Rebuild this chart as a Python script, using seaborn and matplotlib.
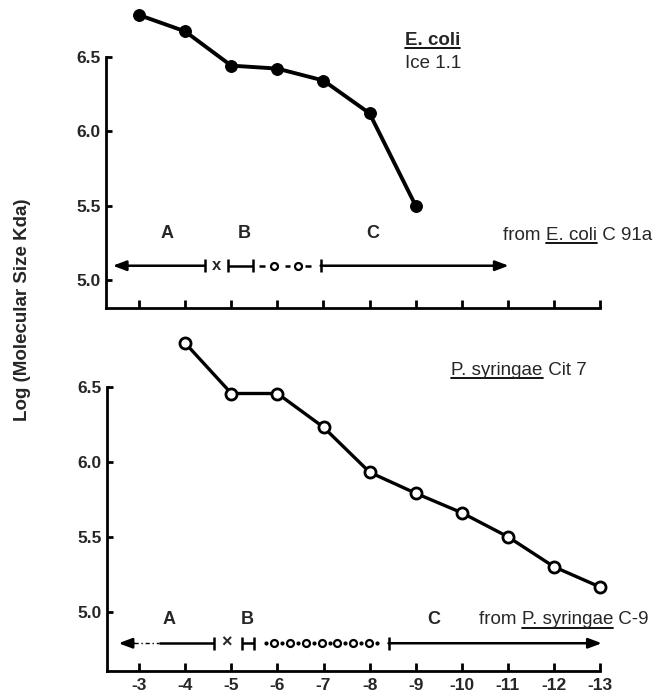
import matplotlib
matplotlib.use("Agg")
import matplotlib.pyplot as plt
import seaborn as sns
import numpy as np
import pandas as pd
from matplotlib.lines import Line2D
from matplotlib.transforms import IdentityTransform

# ---------------- data ----------------
dilution_ecoli = [-3, -4, -5, -6, -7, -8, -9]
logsize_ecoli = [6.78, 6.67, 6.44, 6.42, 6.34, 6.12, 5.50]

dilution_psyr = [-4, -5, -6, -7, -8, -9, -10, -11, -12, -13]
logsize_psyr = [6.79, 6.455, 6.455, 6.23, 5.93, 5.79, 5.66, 5.50, 5.30, 5.165]

xticks = [-3, -4, -5, -6, -7, -8, -9, -10, -11, -12, -13]
xtick_labels = ["-3", "-4", "-5", "-6", "-7", "-8", "-9", "-10", "-11", "-12", "-13"]
yticks = [5.0, 5.5, 6.0, 6.5]
ytick_labels = ["5.0", "5.5", "6.0", "6.5"]

ylabel = "Log (Molecular Size Kda)"
region_labels = ["A", "B", "C"]

# ---------------- style ----------------
sns.set_style("ticks")
plt.rcParams["font.family"] = ["Liberation Sans", "DejaVu Sans"]
plt.rcParams["axes.unicode_minus"] = False

W, H = 669, 694
fig = plt.figure(figsize=(W / 100, H / 100), dpi=100)

def px_axes(left, right, top, bottom):
    return fig.add_axes([left / W, 1 - bottom / H, (right - left) / W, (bottom - top) / H])

ax1 = px_axes(106, 600, 8, 308)
ax2 = px_axes(107, 600, 335, 671)

df1 = pd.DataFrame({"dilution": dilution_ecoli, "logsize": logsize_ecoli})
df2 = pd.DataFrame({"dilution": dilution_psyr, "logsize": logsize_psyr})

sns.lineplot(data=df1, x="dilution", y="logsize", ax=ax1, color="black", lw=2.8,
             marker="o", markersize=8.5, markerfacecolor="black",
             markeredgecolor="black", sort=False, clip_on=False)
sns.lineplot(data=df2, x="dilution", y="logsize", ax=ax2, color="black", lw=2.4,
             marker="o", markersize=8, markerfacecolor="white",
             markeredgecolor="black", markeredgewidth=2.0, sort=False, clip_on=False)

ax1.set_xlim(-2.284, -13.0)
ax1.set_ylim(4.812, 6.827)
ax2.set_xlim(-2.30, -13.0)
ax2.set_ylim(4.605, 6.845)

TICKFS = 12.5
for ax in (ax1, ax2):
    sns.despine(ax=ax)
    ax.set_xticks(xticks)
    ax.set_yticks(yticks)
    ax.set_yticklabels(ytick_labels, fontsize=TICKFS, fontweight="bold")
    ax.set_xlabel("")
    ax.set_ylabel("")
    for s in ("left", "bottom"):
        ax.spines[s].set_linewidth(2.0)
        ax.spines[s].set_color("black")
    ax.tick_params(axis="x", direction="in", length=6, width=2.0, pad=5, color="black")
    ax.tick_params(axis="y", direction="in", length=4.5, width=2.0, pad=4, color="black")

ax1.set_xticklabels([])
ax2.set_xticklabels(xtick_labels, fontsize=TICKFS, fontweight="bold")
ax1.spines["left"].set_bounds(4.812, 6.5)
ax2.spines["left"].set_bounds(4.605, 6.5)

fig.text(23 / W, 1 - 310 / H, ylabel, rotation=90, ha="center", va="center",
         fontsize=13.5, fontweight="bold")

# ---------------- range bars ----------------
LW = 1.8
def bar(ax, x, y, h):
    ax.plot([x, x], [y - h, y + h], color="black", lw=LW, clip_on=False, solid_capstyle="butt")

def hline(ax, x0, x1, y, **kw):
    kw.setdefault("lw", LW)
    ax.plot([x0, x1], [y, y], color="black", clip_on=False, solid_capstyle="butt", **kw)

def arrow(ax, x_from, x_to, y):
    ax.annotate("", xy=(x_to, y), xytext=(x_from, y), annotation_clip=False,
                arrowprops=dict(arrowstyle="-|>,head_length=0.8,head_width=0.3",
                                color="black", lw=LW, shrinkA=0, shrinkB=0))

# top panel
ya = 5.096
hb = 0.045
arrow(ax1, -4.43, -2.43, ya)
bar(ax1, -4.43, ya, hb)
ax1.text(-4.69, ya, "x", ha="center", va="center", fontsize=12, fontweight="bold")
bar(ax1, -4.92, ya, hb)
hline(ax1, -4.92, -5.47, ya)
bar(ax1, -5.47, ya, hb)
for xd in (-5.67, -6.22, -6.67):
    hline(ax1, xd + 0.06, xd - 0.06, ya)
ax1.plot([-5.93, -6.44], [ya, ya], ls="none", marker="o", ms=5, mfc="white",
         mec="black", mew=1.6, clip_on=False)
bar(ax1, -6.94, ya, hb)
arrow(ax1, -6.94, -11.02, ya)

# bottom panel
yb = 4.79
hb2 = 0.045
arrow(ax2, -2.88, -2.55, yb)
hline(ax2, -2.88, -3.42, yb, lw=1.0, ls=(0, (3, 2, 1, 2)))
hline(ax2, -3.42, -4.63, yb)
bar(ax2, -4.63, yb, hb2)
ax2.text(-4.89, yb, "×", ha="center", va="center", fontsize=13, fontweight="bold")
bar(ax2, -5.24, yb, hb2)
hline(ax2, -5.24, -5.49, yb)
bar(ax2, -5.49, yb, hb2)
circ_x = [-5.92, -6.27, -6.61, -6.96, -7.30, -7.64, -7.99]
dot_x = [-5.75, -6.095, -6.44, -6.785, -7.13, -7.47, -7.815, -8.15]
ax2.plot(dot_x, [yb] * len(dot_x), ls="none", marker="o", ms=2, mfc="black",
         mec="black", clip_on=False)
ax2.plot(circ_x, [yb] * len(circ_x), ls="none", marker="o", ms=5, mfc="white",
         mec="black", mew=1.6, clip_on=False)
bar(ax2, -8.41, yb, hb2)
arrow(ax2, -8.41, -13.04, yb)

# region letters
for lab, xx in zip(region_labels, (-3.61, -5.29, -8.07)):
    ax1.text(xx, 5.31, lab, ha="center", va="center", fontsize=13, fontweight="bold")
for lab, xx in zip(region_labels, (-3.65, -5.35, -9.39)):
    ax2.text(xx, 4.95, lab, ha="center", va="center", fontsize=13, fontweight="bold")

# ---------------- rich text with underline ----------------
renderer = fig.canvas.get_renderer()

def measure(s, size, weight):
    t = fig.text(0, 0, s + "|", fontsize=size, fontweight=weight)
    w1 = t.get_window_extent(renderer).width
    t.set_text("|")
    w0 = t.get_window_extent(renderer).width
    t.remove()
    return w1 - w0

def rich(ax, x, y, parts, size=13.5):
    X, Y = ax.transData.transform((x, y))
    off = 0.0
    for s, ul, weight in parts:
        w = measure(s, size, weight)
        fig.text(X + off, Y, s, transform=IdentityTransform(), ha="left", va="baseline",
                 fontsize=size, fontweight=weight)
        if ul:
            fig.add_artist(Line2D([X + off, X + off + w], [Y - 3, Y - 3],
                                  transform=IdentityTransform(), color="black", lw=1.3))
        off += w

rich(ax1, -8.77, 6.58, [("E. coli", True, "bold")])
rich(ax1, -8.77, 6.424, [("Ice 1.1", False, "normal")])
rich(ax1, -10.90, 5.27, [("from ", False, "normal"), ("E. coli", True, "normal"),
                         (" C 91a", False, "normal")])
rich(ax2, -9.77, 6.578, [("P. syringae", True, "normal"), (" Cit 7", False, "normal")])
rich(ax2, -10.37, 4.915, [("from ", False, "normal"), ("P. syringae", True, "normal"),
                          (" C-9", False, "normal")])

fig.savefig("out.png", dpi=100)
